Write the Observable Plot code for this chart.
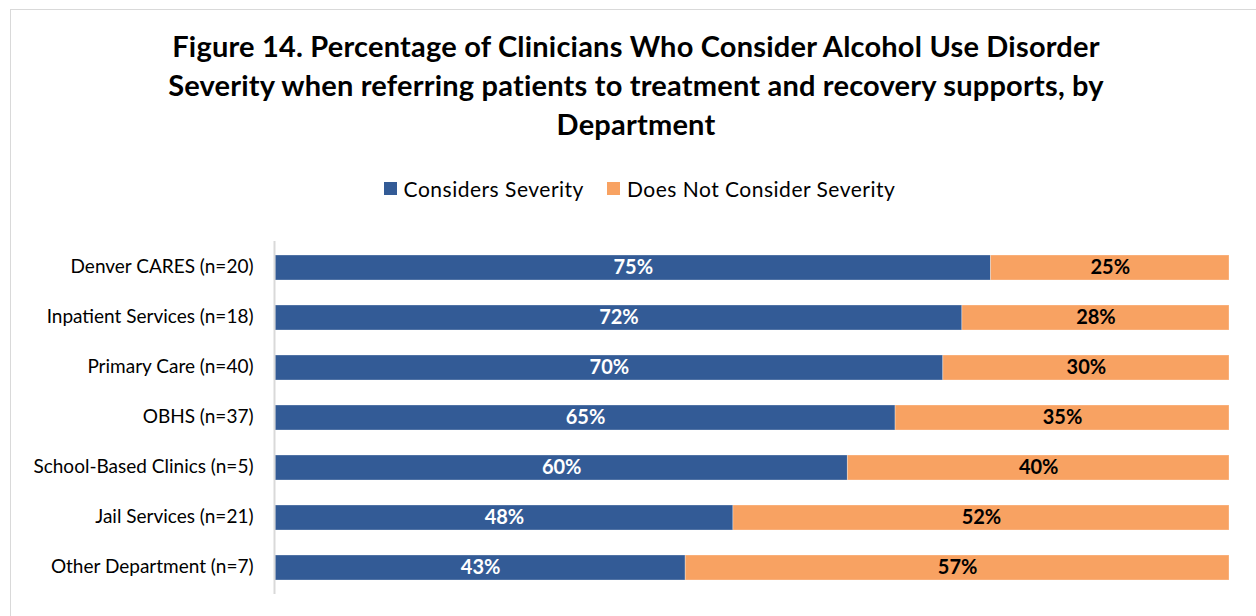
<!DOCTYPE html>
<html><head><meta charset="utf-8">
<script src="https://cdn.jsdelivr.net/npm/d3@7"></script>
<script src="https://cdn.jsdelivr.net/npm/@observablehq/plot@0.6"></script>
<style>
body{margin:0;background:#fff;}
#wrap{position:relative;width:1256px;height:616px;overflow:hidden;font-family:Lato,sans-serif;color:#000;}
#frame{position:absolute;left:10px;top:9px;width:1400px;height:800px;border-left:1.5px solid #d9d9d9;border-top:1.5px solid #d9d9d9;}
#title{position:absolute;left:11px;width:1250px;top:26px;text-align:center;font-weight:700;font-size:29px;letter-spacing:0.2px;line-height:39px;}
#legend{position:absolute;top:176px;left:0;width:1279px;display:flex;justify-content:center;align-items:center;font-size:21px;letter-spacing:0.5px;height:24px;}
#legend .item{display:flex;align-items:center;}
#legend .sw{width:13px;height:13px;margin-right:7px;}
#chart{position:absolute;top:200px;left:0;}
</style></head>
<body>
<div id="wrap">
  <div id="frame"></div>
  <div id="title">Figure 14. Percentage of Clinicians Who Consider Alcohol Use Disorder<br>Severity when referring patients to treatment and recovery supports, by<br>Department</div>
  <div id="legend"></div>
  <div id="chart"></div>
</div>
<script>
const departments = ["Denver CARES (n=20)","Inpatient Services (n=18)","Primary Care (n=40)","OBHS (n=37)","School-Based Clinics (n=5)","Jail Services (n=21)","Other Department (n=7)"];
const seriesNames = ["Considers Severity","Does Not Consider Severity"];
const considers = [75,72,70,65,60,48,43];
const doesNot = [25,28,30,35,40,52,57];
const colors = ["#335B96","#F8A262"];

const data = [];
departments.forEach((d,i)=>{
  data.push({dept:d, series:seriesNames[0], value:considers[i]});
  data.push({dept:d, series:seriesNames[1], value:doesNot[i]});
});

const legend = document.getElementById("legend");
seriesNames.forEach((s,i)=>{
  const it = document.createElement("div");
  it.className="item";
  it.style.marginRight = i===0 ? "23px" : "0";
  it.innerHTML = `<div class="sw" style="background:${colors[i]}"></div><span>${s}</span>`;
  legend.appendChild(it);
});

const chart = Plot.plot({
  width:1256, height:416,
  marginLeft:275, marginRight:27, marginTop:41, marginBottom:22,
  style:{fontFamily:"Lato, sans-serif", background:"transparent"},
  x:{domain:[0,100], axis:null},
  y:{domain:departments, paddingInner:0.5, paddingOuter:0.25, label:null, tickSize:0, tickPadding:22},
  color:{domain:seriesNames, range:colors},
  marks:[
    Plot.barX(data, {x:"value", y:"dept", fill:"series", order:seriesNames, stroke:"#fff", strokeOpacity:0.3, strokeWidth:1}),
    Plot.ruleX([0], {stroke:"#d9d9d9", strokeWidth:2, dx:-1}),
    Plot.text(data, Plot.stackX({x:"value", y:"dept", z:"series", order:seriesNames, text:d=>d.series===seriesNames[0]?d.value+"%":null, fill:"#fff", fontSize:20, fontWeight:"bold"})),
    Plot.text(data, Plot.stackX({x:"value", y:"dept", z:"series", order:seriesNames, text:d=>d.series===seriesNames[1]?d.value+"%":null, fill:"#000", fontSize:20, fontWeight:"bold"})),
    Plot.axisY({tickSize:0, tickPadding:22, fontSize:19, fill:"#000", label:null, dy:-1})
  ]
});
document.getElementById("chart").appendChild(chart);
</script>
</body></html>
